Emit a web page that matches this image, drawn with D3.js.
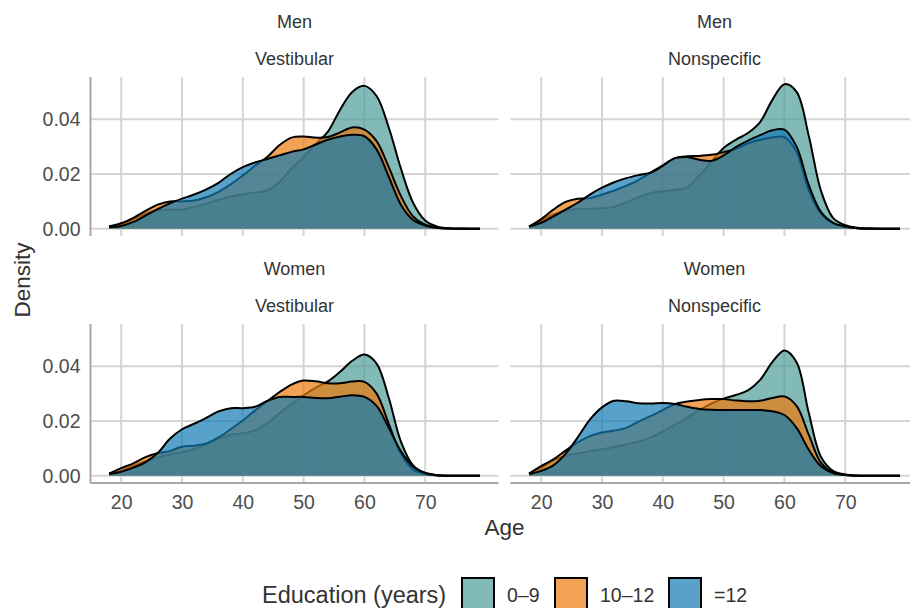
<!DOCTYPE html>
<html>
<head>
<meta charset="utf-8">
<script src="https://cdn.jsdelivr.net/npm/d3@7"></script>
<style>
	body { margin: 0; background: #fff; }
	text { font-family: 'Liberation Sans', Arial, sans-serif; }
</style>
</head>
<body>
<div id="chart-area"></div>
<script>
/*
*    Age density by education, facetted by sex and dizziness type
*/

// Ages at which the density curves were read
const ages = [18, 20, 22, 24, 26, 28, 30, 32, 34, 36, 38, 40, 42, 44, 46, 48,
	50, 52, 54, 56, 58, 60, 62, 64, 66, 68, 70, 72, 74, 76, 79];

const educationLevels = ['0–9', '10–12', '=12'];
const sexLabels = ['Men', 'Women'];
const typeLabels = ['Vestibular', 'Nonspecific'];
const xTicks = [20, 30, 40, 50, 60, 70];
const yTicks = [0, 0.02, 0.04];

// Men, vestibular
const menVestibularLow = [0.0008, 0.0015, 0.0035, 0.0055, 0.0068, 0.0070, 0.0070, 0.0080, 0.0092, 0.0106, 0.0118, 0.0126, 0.0133, 0.0140, 0.0170, 0.0220,
	0.0262, 0.0310, 0.0355, 0.0435, 0.0500, 0.0522, 0.0485, 0.0370, 0.0220, 0.0095, 0.0030, 0.0008, 0.0002, 0.0001, 0];
const menVestibularMid = [0.0008, 0.0020, 0.0040, 0.0065, 0.0088, 0.0100, 0.0100, 0.0103, 0.0115, 0.0135, 0.0162, 0.0195, 0.0230, 0.0262, 0.0305, 0.0333,
	0.0337, 0.0333, 0.0335, 0.0352, 0.0370, 0.0362, 0.0320, 0.0225, 0.0120, 0.0045, 0.0015, 0.0004, 0.0001, 0, 0];
const menVestibularHigh = [0.0006, 0.0010, 0.0025, 0.0048, 0.0072, 0.0093, 0.0110, 0.0125, 0.0144, 0.0168, 0.0200, 0.0225, 0.0242, 0.0255, 0.0268, 0.0281,
	0.0290, 0.0308, 0.0325, 0.0337, 0.0343, 0.0338, 0.0290, 0.0190, 0.0088, 0.0032, 0.0012, 0.0003, 0.0001, 0, 0];

// Men, nonspecific
const menNonspecificLow = [0.0008, 0.0030, 0.0052, 0.0066, 0.0072, 0.0073, 0.0075, 0.0080, 0.0097, 0.0115, 0.0130, 0.0137, 0.0142, 0.0150, 0.0195, 0.0245,
	0.0295, 0.0325, 0.0350, 0.0390, 0.0470, 0.0528, 0.0500, 0.0340, 0.0140, 0.0040, 0.0013, 0.0004, 0.0001, 0, 0];
const menNonspecificMid = [0.0008, 0.0035, 0.0070, 0.0098, 0.0110, 0.0112, 0.0125, 0.0140, 0.0157, 0.0178, 0.0205, 0.0232, 0.0258, 0.0265, 0.0266, 0.0270,
	0.0280, 0.0292, 0.0312, 0.0325, 0.0333, 0.0335, 0.0280, 0.0140, 0.0055, 0.0020, 0.0008, 0.0002, 0.0001, 0, 0];
const menNonspecificHigh = [0.0008, 0.0022, 0.0045, 0.0070, 0.0095, 0.0125, 0.0150, 0.0170, 0.0185, 0.0196, 0.0205, 0.0230, 0.0258, 0.0262, 0.0252, 0.0248,
	0.0268, 0.0298, 0.0322, 0.0342, 0.0360, 0.0362, 0.0300, 0.0160, 0.0062, 0.0022, 0.0008, 0.0002, 0, 0, 0];

// Women, vestibular
const womenVestibularLow = [0.0008, 0.0018, 0.0036, 0.0052, 0.0067, 0.0078, 0.0086, 0.0098, 0.0115, 0.0135, 0.0150, 0.0155, 0.0166, 0.0192, 0.0228, 0.0262,
	0.0294, 0.0322, 0.0345, 0.0380, 0.0420, 0.0443, 0.0410, 0.0285, 0.0125, 0.0038, 0.0010, 0.0002, 0, 0, 0];
const womenVestibularMid = [0.0008, 0.0028, 0.0045, 0.0068, 0.0082, 0.0090, 0.0106, 0.0110, 0.0118, 0.0140, 0.0170, 0.0202, 0.0238, 0.0272, 0.0305, 0.0333,
	0.0348, 0.0345, 0.0338, 0.0338, 0.0344, 0.0343, 0.0300, 0.0190, 0.0080, 0.0022, 0.0006, 0.0001, 0, 0, 0];
const womenVestibularHigh = [0.0006, 0.0015, 0.0030, 0.0050, 0.0083, 0.0135, 0.0170, 0.0190, 0.0212, 0.0235, 0.0247, 0.0247, 0.0252, 0.0273, 0.0288, 0.0288,
	0.0288, 0.0284, 0.0283, 0.0289, 0.0294, 0.0288, 0.0255, 0.0175, 0.0090, 0.0033, 0.0010, 0.0002, 0, 0, 0];

// Women, nonspecific
const womenNonspecificLow = [0.0008, 0.0030, 0.0057, 0.0072, 0.0082, 0.0090, 0.0097, 0.0105, 0.0114, 0.0125, 0.0140, 0.0162, 0.0186, 0.0212, 0.0240, 0.0264,
	0.0282, 0.0295, 0.0312, 0.0350, 0.0415, 0.0458, 0.0415, 0.0230, 0.0070, 0.0018, 0.0005, 0.0001, 0, 0, 0];
const womenNonspecificMid = [0.0008, 0.0035, 0.0060, 0.0092, 0.0122, 0.0145, 0.0158, 0.0165, 0.0175, 0.0198, 0.0218, 0.0240, 0.0262, 0.0271, 0.0277, 0.0280,
	0.0280, 0.0275, 0.0272, 0.0274, 0.0284, 0.0290, 0.0255, 0.0150, 0.0048, 0.0012, 0.0003, 0, 0, 0, 0];
const womenNonspecificHigh = [0.0006, 0.0018, 0.0038, 0.0080, 0.0140, 0.0205, 0.0250, 0.0274, 0.0272, 0.0265, 0.0264, 0.0266, 0.0262, 0.0252, 0.0244, 0.0241,
	0.0240, 0.0240, 0.0240, 0.0240, 0.0236, 0.0222, 0.0175, 0.0095, 0.0035, 0.0010, 0.0003, 0, 0, 0, 0];

const colours = ['#4c9d98', '#ec7a0c', '#117bb4'];

// Facet table: row = sex, col = type
const panels = [
	{ row: 0, col: 0, series: [menVestibularLow, menVestibularMid, menVestibularHigh] },
	{ row: 0, col: 1, series: [menNonspecificLow, menNonspecificMid, menNonspecificHigh] },
	{ row: 1, col: 0, series: [womenVestibularLow, womenVestibularMid, womenVestibularHigh] },
	{ row: 1, col: 1, series: [womenNonspecificLow, womenNonspecificMid, womenNonspecificHigh] }
];

const width = 910;
const height = 608;
const panelW = 408;
const panelH = 159;
const panelLeft = [90.5, 510.5];
const panelTop = [77, 324];
const gridColour = '#d4d4d4';
const axisColour = '#a6a6a6';
const tickFont = '19.5px';

const svg = d3.select('#chart-area').append('svg')
	.attr('width', width)
	.attr('height', height);

// ggplot-style 5% expansion
const ageExtent = d3.extent(ages);
const ageSpan = ageExtent[1] - ageExtent[0];
const maxDensity = d3.max(panels, p => d3.max(p.series, s => d3.max(s)));

const xScales = panelLeft.map(l => d3.scaleLinear()
	.domain([ageExtent[0] - ageSpan * 0.05, ageExtent[1] + ageSpan * 0.05])
	.range([l, l + panelW]));

const yScales = panelTop.map(t => d3.scaleLinear()
	.domain([-maxDensity * 0.05, maxDensity * 1.05])
	.range([t + panelH, t]));

panels.forEach(p => {
	const x = xScales[p.col];
	const y = yScales[p.row];
	const g = svg.append('g');

	// grid
	g.selectAll('.vgrid').data(xTicks).enter()
		.append('line')
		.attr('x1', d => x(d)).attr('x2', d => x(d))
		.attr('y1', y.range()[1]).attr('y2', y.range()[0])
		.attr('stroke', gridColour)
		.attr('stroke-width', 2);

	g.selectAll('.hgrid').data(yTicks).enter()
		.append('line')
		.attr('x1', x.range()[0]).attr('x2', x.range()[1])
		.attr('y1', d => y(d)).attr('y2', d => y(d))
		.attr('stroke', gridColour)
		.attr('stroke-width', 2);

	const area = d3.area()
		.x((d, i) => x(ages[i]))
		.y0(y(0))
		.y1(d => y(d))
		.curve(d3.curveCatmullRom.alpha(0.5));

	const line = d3.line()
		.x((d, i) => x(ages[i]))
		.y(d => y(d))
		.curve(d3.curveCatmullRom.alpha(0.5));

	// each group: fill then upper outline
	p.series.forEach((s, i) => {
		g.append('path')
			.attr('d', area(s))
			.attr('fill', colours[i])
			.attr('fill-opacity', 0.7);
		g.append('path')
			.attr('d', line(s))
			.attr('fill', 'none')
			.attr('stroke', '#000')
			.attr('stroke-width', 2);
	});

	// strip labels
	const cx = (x.range()[0] + x.range()[1]) / 2;
	const top = y.range()[1];
	g.append('text')
		.attr('x', cx)
		.attr('y', top - 49)
		.attr('text-anchor', 'middle')
		.attr('font-size', '18px')
		.attr('fill', '#333')
		.text(sexLabels[p.row]);
	g.append('text')
		.attr('x', cx)
		.attr('y', top - 12)
		.attr('text-anchor', 'middle')
		.attr('font-size', '18px')
		.attr('fill', '#333')
		.text(typeLabels[p.col]);

	// y axis on left column
	if (p.col === 0) {
		g.append('line')
			.attr('x1', x.range()[0]).attr('x2', x.range()[0])
			.attr('y1', y.range()[1]).attr('y2', y.range()[0])
			.attr('stroke', axisColour)
			.attr('stroke-width', 2);

		const yAxisGroup = g.append('g')
			.attr('transform', `translate(${x.range()[0]}, 0)`)
			.call(d3.axisLeft(y).tickValues(yTicks).tickSize(0).tickPadding(10).tickFormat(d3.format('.2f')));
		yAxisGroup.select('.domain').remove();
		yAxisGroup.selectAll('text')
			.attr('font-size', tickFont)
			.attr('font-family', "'Liberation Sans', Arial, sans-serif")
			.attr('fill', '#4d4d4d');
	}

	// x axis on bottom row
	if (p.row === 1) {
		g.append('line')
			.attr('x1', x.range()[0]).attr('x2', x.range()[1])
			.attr('y1', y.range()[0]).attr('y2', y.range()[0])
			.attr('stroke', axisColour)
			.attr('stroke-width', 2);

		const xAxisGroup = g.append('g')
			.attr('transform', `translate(0, ${y.range()[0]})`)
			.call(d3.axisBottom(x).tickValues(xTicks).tickSize(0).tickPadding(12.5));
		xAxisGroup.select('.domain').remove();
		xAxisGroup.selectAll('text')
			.attr('font-size', tickFont)
			.attr('font-family', "'Liberation Sans', Arial, sans-serif")
			.attr('fill', '#4d4d4d');
	}
});

// axis titles
svg.append('text')
	.attr('x', (panelLeft[0] + panelLeft[1] + panelW) / 2)
	.attr('y', 535)
	.attr('text-anchor', 'middle')
	.attr('font-size', '22.5px')
	.attr('fill', '#333')
	.text('Age');

svg.append('text')
	.attr('x', -(panelTop[0] + panelTop[1] + panelH) / 2)
	.attr('y', 30)
	.attr('text-anchor', 'middle')
	.attr('transform', 'rotate(-90)')
	.attr('font-size', '22.5px')
	.attr('fill', '#333')
	.text('Density');

// legend
const legend = svg.append('g');

legend.append('text')
	.attr('x', 262)
	.attr('y', 603)
	.attr('font-size', '23.5px')
	.attr('fill', '#333')
	.text('Education (years)');

const keyX = [462, 555, 669];
educationLevels.forEach((lvl, i) => {
	const row = legend.append('g')
		.attr('transform', `translate(${keyX[i]}, 578)`);

	row.append('rect')
		.attr('width', 32)
		.attr('height', 32)
		.attr('fill', colours[i])
		.attr('fill-opacity', 0.7)
		.attr('stroke', '#000')
		.attr('stroke-width', 2);

	row.append('text')
		.attr('x', 45)
		.attr('y', 24)
		.attr('font-size', '19.5px')
		.attr('fill', '#333')
		.text(lvl);
});
</script>
</body>
</html>
